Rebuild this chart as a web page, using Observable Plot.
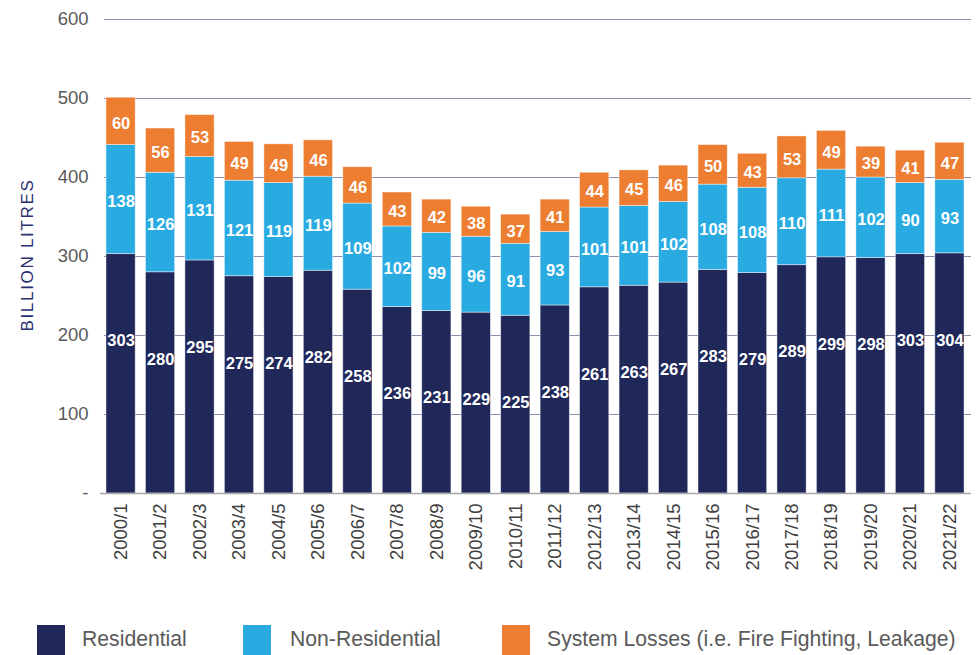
<!DOCTYPE html>
<html>
<head>
<meta charset="utf-8">
<script src="https://cdn.jsdelivr.net/npm/d3@7"></script>
<script src="https://cdn.jsdelivr.net/npm/@observablehq/plot@0.6"></script>
<style>
  html, body { margin: 0; padding: 0; background: #fff; }
  #wrap { position: relative; width: 980px; height: 655px; font-family: "Liberation Sans", Arial, sans-serif; }
  #ylabel { position: absolute; left: 28px; top: 255px; transform: translate(-50%, -50%) rotate(-90deg); white-space: nowrap;
    font-size: 17px; letter-spacing: 1.7px; color: #2b3070; }
  .leg { position: absolute; top: 625px; display: flex; align-items: center; }
  .sw { width: 28px; height: 30px; }
  .lt { font-size: 21.2px; color: #5a5a5a; position: absolute; top: 2px; white-space: nowrap; }
</style>
</head>
<body>
<div id="wrap">
  <div id="chart"></div>
  <div id="ylabel">BILLION LITRES</div>
  <div id="legend"></div>
</div>
<script>
const years = ["2000/1","2001/2","2002/3","2003/4","2004/5","2005/6","2006/7","2007/8","2008/9","2009/10","2010/11","2011/12","2012/13","2013/14","2014/15","2015/16","2016/17","2017/18","2018/19","2019/20","2020/21","2021/22"];
const residential = [303,280,295,275,274,282,258,236,231,229,225,238,261,263,267,283,279,289,299,298,303,304];
const nonResidential = [138,126,131,121,119,119,109,102,99,96,91,93,101,101,102,108,108,110,111,102,90,93];
const systemLosses = [60,56,53,49,49,46,46,43,42,38,37,41,44,45,46,50,43,53,49,39,41,47];
const seriesNames = ["Residential", "Non-Residential", "System Losses (i.e. Fire Fighting, Leakage)"];
const seriesColors = ["#20285a", "#29abe2", "#ed7d31"];
const yTicks = [0, 100, 200, 300, 400, 500, 600];

const seriesValues = [residential, nonResidential, systemLosses];
const rows = [];
years.forEach((yr, i) => {
  let base = 0;
  seriesValues.forEach((vals, s) => {
    const v = vals[i];
    rows.push({year: yr, series: seriesNames[s], idx: s, value: v, y0: base, y1: base + v, mid: base + v / 2});
    base += v;
  });
});

const chart = Plot.plot({
  width: 980,
  height: 615,
  marginLeft: 104,
  marginRight: 14,
  marginTop: 19,
  marginBottom: 122,
  style: {fontFamily: "'Liberation Sans', Arial, sans-serif", background: "#fff", overflow: "visible"},
  x: {domain: years, paddingInner: 0.26, paddingOuter: 0.05, round: false, label: null},
  y: {domain: [0, 600], label: null},
  color: {domain: seriesNames, range: seriesColors},
  marks: [
    Plot.ruleY(yTicks.filter(d => d > 0), {stroke: "#8d8fb2", strokeWidth: 1.1, insetRight: -5}),
    Plot.barY(rows, {x: "year", y1: "y0", y2: "y1", fill: "series", stroke: "white", strokeWidth: 0.8, strokeOpacity: 0.55}),
    Plot.ruleY([0], {stroke: "#a6a6a6", strokeWidth: 1.6, insetLeft: -4, insetRight: -5}),
    Plot.axisY({ticks: yTicks, tickSize: 0, tickPadding: 16, tickFormat: d => d === 0 ? "-" : d, fontSize: 18.5, color: "#5a5a5a", label: null}),
    Plot.axisX({tickSize: 0, tickRotate: -90, tickPadding: 10, fontSize: 18.5, color: "#404040", label: null}),
    Plot.text(rows.filter(r => r.idx === 0), {x: "year", y: "y1", dy: 87, text: "value", fill: "white", fontWeight: "bold", fontSize: 16.5}),
    Plot.text(rows.filter(r => r.idx > 0), {x: "year", y: "mid", dy: 2, text: "value", fill: "white", fontWeight: "bold", fontSize: 16.5})
  ]
});
document.getElementById("chart").appendChild(chart);

const legendPos = [[37, 82], [243, 290], [502, 547]];
const legend = document.getElementById("legend");
seriesNames.forEach((name, i) => {
  const sw = document.createElement("div");
  sw.className = "leg";
  sw.style.left = legendPos[i][0] + "px";
  sw.innerHTML = `<div class="sw" style="background:${seriesColors[i]}"></div>`;
  legend.appendChild(sw);
  const t = document.createElement("div");
  t.className = "leg";
  t.style.left = legendPos[i][1] + "px";
  t.innerHTML = `<span class="lt">${name}</span>`;
  legend.appendChild(t);
});
</script>
</body>
</html>
